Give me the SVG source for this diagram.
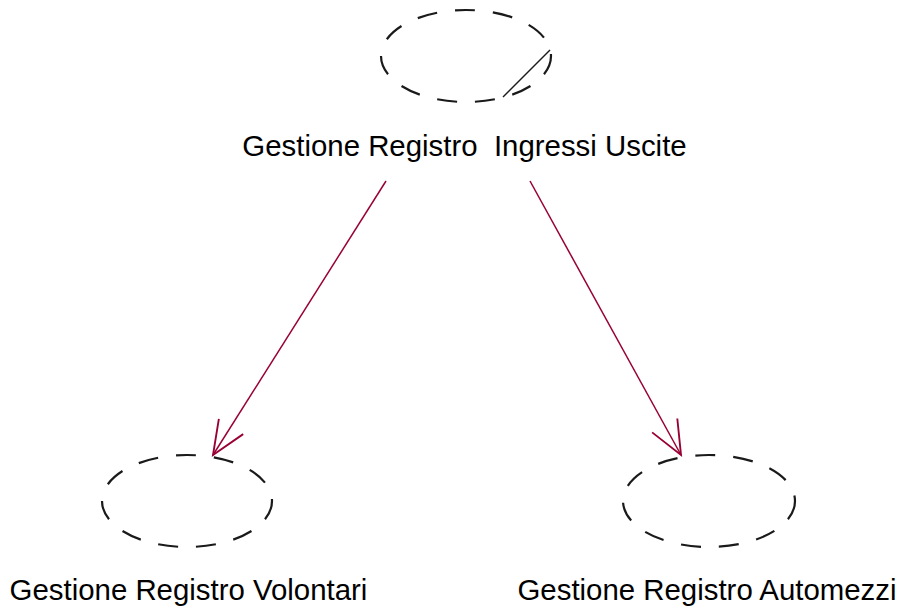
<svg xmlns="http://www.w3.org/2000/svg" width="901" height="612" viewBox="0 0 901 612">
<style>
.uc{fill:none;stroke:#1a1a1a;stroke-width:2.2;stroke-dasharray:20 18}
.lbl{font-family:"Liberation Sans",Arial,sans-serif;font-size:29.4px;fill:#000;text-anchor:middle;white-space:pre}
.dep{fill:none;stroke:#990033;stroke-width:1.5}
</style>
<defs>
<marker id="open" markerUnits="userSpaceOnUse" markerWidth="40" markerHeight="40" viewBox="-30 -15 32 30" refX="0" refY="0" orient="auto">
<path d="M-27,-11.5 L0,0 L-27,11.5" fill="none" stroke="#990033" stroke-width="1.5"/>
</marker>
</defs>
<rect width="901" height="612" fill="#fff"/>
<g id="node-ingressi">
<ellipse class="uc" cx="466" cy="56" rx="85" ry="46"/>
<line x1="550" y1="50" x2="503" y2="97" stroke="#1a1a1a" stroke-width="1.5"/>
<text class="lbl" x="464.5" y="156" xml:space="preserve">Gestione Registro  Ingressi Uscite</text>
</g>
<g id="node-volontari">
<ellipse class="uc" cx="187" cy="501" rx="85" ry="46"/>
<text class="lbl" x="188.5" y="600">Gestione Registro Volontari</text>
</g>
<g id="node-automezzi">
<ellipse class="uc" cx="709" cy="501" rx="86" ry="46"/>
<text class="lbl" x="707" y="600">Gestione Registro Automezzi</text>
</g>
<g id="connectors">
<path class="dep" d="M386,181 L213,455" marker-end="url(#open)"/>
<path class="dep" d="M530,181 L681,455" marker-end="url(#open)"/>
</g>
</svg>
